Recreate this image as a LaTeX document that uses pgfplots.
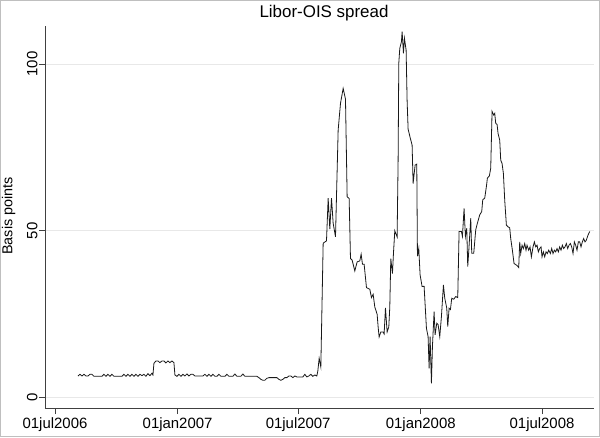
\documentclass[border=0pt]{standalone}
\usepackage{fontspec}
\setmainfont{Liberation Sans}
\usepackage{pgfplots}
\usepackage{pgfplotstable}
\pgfplotsset{compat=1.18}
% x = days since 01jul2006, y = Libor-OIS spread (basis points)
\pgfplotstableread{
d v
34.5 6.5
37.5 7.0
40.5 6.5
43.5 7.0
46.5 6.5
49.5 6.5
52.5 7.0
55.5 7.0
58.5 6.4
70.5 6.4
73.5 7.0
76.5 6.4
79.5 7.0
82.5 6.4
85.5 7.0
88.5 6.4
100.5 6.4
103.5 7.0
106.5 6.4
109.5 7.0
112.5 6.4
115.5 7.0
118.5 6.4
121.5 7.0
124.5 6.4
127.5 7.0
130.5 6.6
133.5 7.0
136.5 6.4
139.5 7.2
142.5 6.6
145.5 7.3
147 6.8
148.5 10.3
151.5 11.0
154.5 11.0
157.5 10.5
160.5 11.0
163.5 11.0
166.5 10.4
169.5 11.0
172.5 10.5
175.5 11.0
178.5 10.5
180 6.8
183 6.4
186 7.0
189 6.4
192 7.0
195 6.5
198 7.1
201 6.5
204 7.0
207 7.0
210 6.5
222 6.5
225 7.0
228 6.4
231 7.0
234 6.4
237 7.0
240 6.4
243 6.4
246 7.0
249 6.4
255 6.4
258 7.0
261 6.4
267 6.4
270 7.1
273 6.4
279 6.4
282 7.1
285 6.4
303 6.4
306 6.0
309 5.5
312 5.2
315 5.2
318 5.8
321 6.0
333 6.0
336 5.5
339 5.2
342 5.5
345 6.0
348 6.0
351 6.5
354 6.5
357 6.0
360 6.5
363 6.2
372 6.2
375 7.0
378 6.2
381 6.5
384 7.0
387 6.4
390 6.8
393 6.5
394.5 8.0
396.5 11.8
399 9.2
402.5 46.3
407.5 47.0
410 59.8
412.5 50.5
415 59.8
417.5 52.3
421 48.2
425 80.2
428.5 88.2
432.5 92.7
436 89.5
438.5 60.2
441.5 59.7
443.5 41.7
446 41.2
450 38.0
453.5 40.7
457.5 41.0
459.5 43.0
461.5 40.0
464 40.0
467.5 33.0
472.5 32.5
475 30.0
477.5 31.0
480 27.2
483.5 25.0
485 21.2
486.5 18.2
489 19.7
492.5 19.7
494 19.1
496 26.9
498.5 19.7
501 21.2
502.5 27.2
504 41.7
506.5 37.2
508 43.2
510 50.0
513.5 48.2
515 71.2
516 100.2
517.5 104.7
520 106.7
521 109.7
523 103.2
524.5 107.7
527 104.2
528.5 89.0
530 80.5
533 78.0
536 75.7
537.5 64.2
540.5 69.7
543 70.0
544 42.4
546 44.7
548 36.8
551 33.3
554 33.4
557.5 20.8
560 18.3
561.5 8.8
563 18.3
565 4.3
566.5 15.3
569 25.8
570.5 18.8
573 22.3
575 21.9
577.5 18.3
580 24.3
583 33.8
585 29.8
588 26.8
589.5 21.3
591.5 26.8
593.5 26.4
595.5 29.8
598.5 29.5
601.5 30.3
604.5 30.0
606.5 49.8
610 49.8
611.5 48.3
614 56.7
616 48.3
618 50.8
619.5 39.3
621 43.8
624 53.8
625.5 43.3
628.5 43.3
631.5 50.3
634 52.3
637.5 54.8
640.5 55.8
642 59.3
645 59.8
647.5 63.3
649 65.8
652 66.5
654 68.8
656 85.8
658.5 84.7
660 85.2
661.5 82.2
663.5 81.9
665 79.2
667.5 77.2
669 71.2
671 70.2
673 67.2
675 59.2
677.5 51.7
680 51.2
682.5 50.9
684 47.7
686.5 44.2
689 40.2
691.5 39.9
694 39.5
696 39.0
697.5 46.7
699 43.2
701 45.7
703 44.7
705 46.2
707 44.2
708.5 45.7
711 44.2
713 45.2
715 42.2
717.5 45.2
719.5 46.7
721.5 45.2
723.5 45.7
725.5 43.7
727.5 44.7
729.5 45.2
731 42.2
733 43.7
735 42.2
737 43.7
739 43.2
741 44.2
743.5 43.2
745.5 44.7
747.5 43.2
749.5 44.2
751.5 43.7
753.5 44.7
755.5 43.7
757.5 45.2
759.5 44.2
761.5 45.7
763.5 44.7
765.5 45.2
767.5 46.2
769.5 44.7
771.5 45.7
773.5 46.2
775.5 45.2
777.5 43.2
779.5 46.7
781.5 45.7
783.5 44.2
785.5 46.7
787.5 46.7
789.5 45.2
791.5 46.7
793.5 47.7
795.5 46.7
797.5 47.2
800 48.7
802.5 49.8
}\spread
\begin{document}
\begin{tikzpicture}
\path[use as bounding box] (0,0) rectangle (450pt,327.75pt);
\draw[black!25, line width=0.75pt] (0.375pt,0.375pt) rectangle (449.625pt,327.375pt);
\begin{axis}[
  at={(33.75pt,21.75pt)}, anchor=south west,
  scale only axis, width=411.75pt, height=286.5pt,
  xmin=-15, xmax=809, ymin=-3.1, ymax=111.4,
  axis x line*=bottom, axis y line*=left,
  axis line style={-, black!75, line width=0.6pt},
  xtick={0,184,365,549,731},
  xticklabels={01jul2006,01jan2007,01jul2007,01jan2008,01jul2008},
  ytick={0,50,100},
  ymajorgrids, grid style={black!9, line width=0.6pt},
  tick align=outside, major tick length=4.5pt,
  tick style={black!75, line width=0.6pt},
  /pgf/number format/assume math mode=true,
  tick label style={font=\fontsize{11.2}{13}\selectfont},
  yticklabel style={rotate=90, anchor=south, inner sep=1pt},
  xticklabel style={anchor=base, yshift=-11pt},
  title={Libor-OIS spread},
  every axis title/.style={font=\fontsize{12.7}{15}\selectfont, at={(axis description cs:0.5,1)}, anchor=base, yshift=6.5pt, xshift=3.4pt},
  ylabel={Basis points},
  every axis y label/.style={font=\fontsize{10.8}{13}\selectfont, rotate=90, at={(axis description cs:-0.066,0.503)}, anchor=center},
  clip=false,
]
\addplot[black!90, line width=0.6pt] table[x=d, y=v] {\spread};
\end{axis}
\end{tikzpicture}
\end{document}
